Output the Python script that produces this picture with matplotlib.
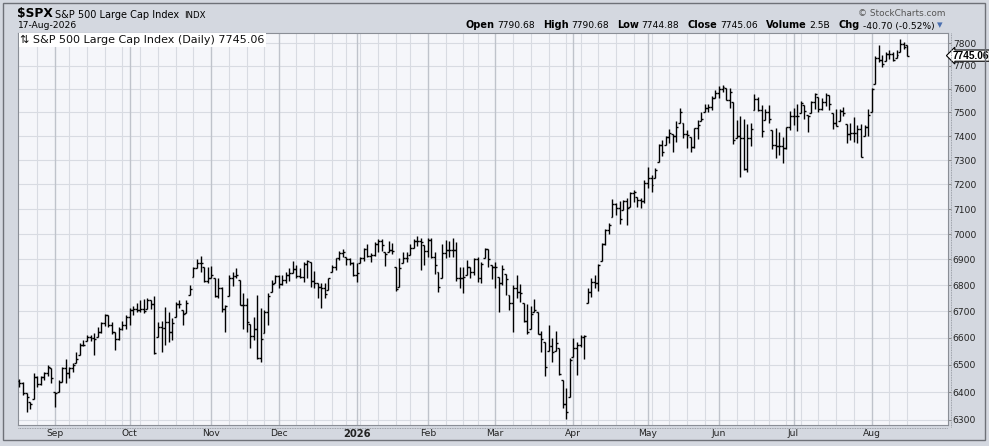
import numpy as np
import pandas as pd
import matplotlib
matplotlib.use('Agg')
import matplotlib.pyplot as plt
import matplotlib.transforms as mtransforms
from matplotlib.patches import Rectangle
from matplotlib.lines import Line2D
from matplotlib.ticker import FixedLocator, FixedFormatter, NullLocator

# trading days: one year of daily bars, NYSE holidays removed
holidays = ['2025-09-01', '2025-11-27', '2025-12-25', '2026-01-01', '2026-01-19',
            '2026-02-16', '2026-04-03', '2026-05-25', '2026-06-19', '2026-07-03']
dates = pd.bdate_range('2025-08-18', '2026-08-17')
dates = dates[~dates.isin(pd.to_datetime(holidays))]

highs = [6447, 6438, 6396, 6366, 6469, 6459, 6459, 6475, 6499, 6487,
         6402, 6444, 6491, 6520, 6493, 6506, 6549, 6582, 6592, 6611,
         6611, 6617, 6642, 6661, 6690, 6686, 6661, 6623, 6640, 6665,
         6686, 6711, 6720, 6731, 6743, 6746, 6750, 6743, 6759, 6661,
         6665, 6718, 6699, 6674, 6737, 6743, 6705, 6743, 6801, 6871,
         6902, 6915, 6871, 6871, 6875, 6826, 6826, 6794, 6724, 6838,
         6852, 6865, 6820, 6769, 6750, 6653, 6680, 6762, 6711, 6705,
         6769, 6820, 6841, 6838, 6838, 6852, 6865, 6894, 6878, 6865,
         6891, 6898, 6891, 6855, 6807, 6807, 6807, 6829, 6878, 6907,
         6933, 6941, 6911, 6904, 6891, 6888, 6911, 6943, 6959, 6924,
         6967, 6980, 6980, 6930, 6972, 6963, 6871, 6907, 6930, 6928,
         6959, 6980, 6993, 6983, 6957, 6985, 6985, 6930, 6852, 6959,
         6976, 6972, 6985, 6969, 6871, 6871, 6898, 6871, 6907, 6911,
         6891, 6946, 6941, 6878, 6891, 6833, 6878, 6845, 6762, 6801,
         6838, 6803, 6731, 6728, 6722, 6747, 6699, 6625, 6586, 6647,
         6599, 6625, 6561, 6446, 6415, 6526, 6599, 6586, 6611, 6611,
         6788, 6829, 6838, 6881, 6963, 7019, 7046, 7141, 7123, 7133,
         7137, 7144, 7168, 7178, 7150, 7144, 7217, 7272, 7237, 7268,
         7365, 7383, 7401, 7429, 7407, 7464, 7517, 7453, 7425, 7397,
         7435, 7467, 7503, 7535, 7535, 7571, 7595, 7614, 7617, 7606,
         7603, 7543, 7467, 7483, 7470, 7450, 7453, 7578, 7567, 7531,
         7513, 7531, 7425, 7432, 7418, 7394, 7439, 7507, 7517, 7535,
         7549, 7531, 7488, 7549, 7584, 7567, 7560, 7584, 7574, 7496,
         7513, 7513, 7522, 7450, 7453, 7479, 7446, 7450, 7446, 7513,
         7606, 7744, 7792, 7748, 7762, 7768, 7762, 7768, 7820, 7805,
         7790.68]
lows = [6420, 6390, 6330, 6338, 6374, 6420, 6426, 6444, 6459, 6432,
        6348, 6402, 6438, 6432, 6450, 6472, 6508, 6535, 6570, 6590,
        6589, 6536, 6605, 6617, 6645, 6640, 6615, 6555, 6592, 6630,
        6632, 6649, 6686, 6699, 6699, 6695, 6708, 6708, 6541, 6605,
        6549, 6572, 6586, 6592, 6680, 6711, 6647, 6693, 6762, 6833,
        6865, 6850, 6811, 6807, 6826, 6756, 6750, 6699, 6621, 6760,
        6798, 6826, 6726, 6635, 6623, 6561, 6592, 6523, 6509, 6617,
        6649, 6775, 6807, 6788, 6801, 6807, 6816, 6849, 6826, 6826,
        6813, 6826, 6794, 6791, 6750, 6711, 6750, 6781, 6852, 6859,
        6898, 6911, 6878, 6878, 6836, 6813, 6885, 6894, 6911, 6891,
        6915, 6930, 6933, 6875, 6930, 6920, 6778, 6794, 6885, 6891,
        6917, 6943, 6954, 6859, 6878, 6911, 6907, 6845, 6773, 6826,
        6904, 6911, 6911, 6816, 6788, 6769, 6841, 6826, 6838, 6813,
        6807, 6907, 6871, 6823, 6788, 6699, 6801, 6762, 6705, 6623,
        6750, 6737, 6661, 6613, 6632, 6699, 6613, 6546, 6460, 6550,
        6511, 6550, 6462, 6344, 6304, 6384, 6530, 6462, 6567, 6520,
        6731, 6753, 6788, 6778, 6894, 6957, 6999, 7069, 7076, 7042,
        7096, 7038, 7109, 7130, 7109, 7103, 7123, 7184, 7168, 7227,
        7290, 7318, 7362, 7369, 7334, 7373, 7453, 7393, 7348, 7332,
        7351, 7387, 7464, 7500, 7500, 7510, 7563, 7563, 7588, 7553,
        7517, 7365, 7390, 7231, 7259, 7252, 7357, 7510, 7507, 7397,
        7467, 7456, 7344, 7307, 7320, 7289, 7344, 7425, 7446, 7422,
        7498, 7470, 7418, 7496, 7513, 7503, 7510, 7527, 7510, 7428,
        7442, 7464, 7484, 7371, 7383, 7376, 7369, 7311, 7400, 7400,
        7503, 7620, 7717, 7697, 7720, 7729, 7720, 7733, 7759, 7775,
        7744.88]
closes = [6435, 6398, 6384, 6358, 6454, 6429, 6454, 6469, 6491, 6450,
          6398, 6437, 6487, 6469, 6487, 6499, 6520, 6574, 6574, 6605,
          6599, 6595, 6623, 6655, 6686, 6649, 6623, 6595, 6632, 6649,
          6680, 6705, 6708, 6705, 6708, 6702, 6743, 6728, 6544, 6642,
          6636, 6658, 6621, 6655, 6728, 6728, 6689, 6733, 6786, 6868,
          6885, 6885, 6816, 6829, 6841, 6760, 6791, 6710, 6722, 6826,
          6836, 6841, 6726, 6726, 6658, 6606, 6632, 6525, 6596, 6696,
          6758, 6803, 6836, 6803, 6820, 6841, 6849, 6862, 6836, 6833,
          6881, 6894, 6816, 6807, 6794, 6791, 6765, 6826, 6871, 6904,
          6924, 6928, 6902, 6888, 6838, 6849, 6907, 6941, 6915, 6917,
          6959, 6972, 6957, 6920, 6937, 6933, 6786, 6868, 6907, 6907,
          6943, 6972, 6972, 6967, 6933, 6976, 6911, 6878, 6794, 6924,
          6937, 6937, 6937, 6826, 6826, 6833, 6871, 6852, 6902, 6829,
          6881, 6941, 6902, 6871, 6871, 6807, 6862, 6823, 6731, 6788,
          6773, 6769, 6663, 6621, 6689, 6705, 6616, 6596, 6493, 6570,
          6548, 6582, 6465, 6356, 6330, 6517, 6563, 6574, 6605, 6607,
          6775, 6813, 6807, 6878, 6959, 7015, 7035, 7119, 7103, 7060,
          7133, 7105, 7163, 7168, 7135, 7133, 7204, 7224, 7197, 7259,
          7362, 7334, 7397, 7411, 7401, 7439, 7500, 7407, 7404, 7355,
          7432, 7446, 7471, 7517, 7524, 7563, 7581, 7600, 7610, 7553,
          7588, 7382, 7401, 7390, 7261, 7390, 7428, 7556, 7510, 7422,
          7503, 7470, 7362, 7357, 7357, 7351, 7437, 7484, 7484, 7484,
          7541, 7507, 7484, 7545, 7578, 7513, 7545, 7574, 7535, 7456,
          7442, 7507, 7498, 7407, 7411, 7411, 7428, 7313, 7439, 7488,
          7598, 7733, 7724, 7709, 7754, 7754, 7726, 7748, 7797, 7785,
          7745.06]
opens = [6440, 6435, 6396, 6366, 6374, 6454, 6429, 6454, 6469, 6487,
         6402, 6402, 6438, 6487, 6469, 6487, 6508, 6535, 6574, 6590,
         6605, 6599, 6605, 6623, 6655, 6686, 6649, 6623, 6595, 6632,
         6649, 6680, 6705, 6708, 6705, 6708, 6708, 6743, 6728, 6605,
         6642, 6636, 6658, 6621, 6680, 6728, 6705, 6693, 6762, 6833,
         6868, 6885, 6871, 6816, 6829, 6826, 6760, 6791, 6710, 6760,
         6826, 6836, 6820, 6726, 6726, 6653, 6606, 6632, 6525, 6617,
         6696, 6775, 6807, 6836, 6803, 6820, 6841, 6849, 6862, 6836,
         6833, 6881, 6891, 6816, 6807, 6794, 6791, 6781, 6852, 6871,
         6904, 6924, 6911, 6902, 6888, 6838, 6885, 6907, 6941, 6915,
         6917, 6959, 6972, 6930, 6930, 6937, 6871, 6794, 6885, 6907,
         6917, 6943, 6972, 6972, 6957, 6933, 6976, 6911, 6852, 6826,
         6924, 6937, 6937, 6937, 6826, 6826, 6841, 6871, 6852, 6902,
         6829, 6907, 6941, 6878, 6871, 6833, 6807, 6845, 6762, 6731,
         6788, 6773, 6731, 6663, 6632, 6699, 6699, 6616, 6586, 6550,
         6570, 6550, 6561, 6446, 6356, 6384, 6530, 6563, 6574, 6605,
         6731, 6775, 6813, 6807, 6894, 6959, 7015, 7069, 7119, 7103,
         7096, 7133, 7109, 7163, 7150, 7135, 7133, 7204, 7224, 7227,
         7290, 7362, 7362, 7397, 7407, 7401, 7453, 7453, 7407, 7397,
         7355, 7432, 7464, 7500, 7517, 7524, 7563, 7581, 7600, 7606,
         7553, 7543, 7390, 7401, 7390, 7261, 7390, 7510, 7556, 7510,
         7467, 7503, 7425, 7362, 7357, 7357, 7351, 7437, 7484, 7484,
         7498, 7531, 7488, 7496, 7545, 7567, 7513, 7545, 7574, 7496,
         7456, 7464, 7507, 7450, 7407, 7411, 7411, 7428, 7400, 7439,
         7503, 7620, 7733, 7724, 7720, 7754, 7754, 7733, 7759, 7797,
         7790.68]

y_ticks = list(range(6300, 7900, 100))
header_fields = [('Open', '7790.68'), ('High', '7790.68'), ('Low', '7744.88'),
                 ('Close', '7745.06'), ('Volume', '2.5B'), ('Chg', '-40.70 (-0.52%)')]
last_close = closes[-1]

W, H = 989, 446
fig = plt.figure(figsize=(W / 100, H / 100), dpi=100)
fig.patch.set_facecolor('#d4d8e0')

def fx(px):
    return px / W

def fy(py):
    return 1 - py / H

# plot area in pixels: x 18..948, y 33..425
ax = fig.add_axes([fx(18), fy(425), fx(948) - fx(18), fy(33) - fy(425)])
ax.set_facecolor('#f5f6fa')

x = np.arange(len(dates))
ax.set_yscale('log')
ax.set_xlim(-0.42, 261.5)
ax.set_ylim(6282, 7845)

# grid: horizontal every 100, weekly + monthly verticals
for v in y_ticks:
    ax.axhline(v, color='#d8dbe2', lw=0.8, zorder=0)
week = dates.to_period('W')
month = dates.to_period('M')
week_starts = [i for i in range(1, len(dates)) if week[i] != week[i - 1]]
month_starts = [i for i in range(1, len(dates)) if month[i] != month[i - 1]]
for i in week_starts:
    if i not in month_starts:
        ax.axvline(i, color='#d8dbe2', lw=0.8, zorder=0)
for i in month_starts:
    ax.axvline(i, color='#bfc3cb', lw=1.0, zorder=0)

# OHLC bars
bar_kw = dict(color='black', lw=1.0, zorder=3)
ax.vlines(x, lows, highs, **bar_kw)
ax.hlines(opens, x - 0.55, x, **bar_kw)
ax.hlines(closes, x, x + 0.55, **bar_kw)

# right price axis
ax.yaxis.tick_right()
ax.yaxis.set_major_locator(FixedLocator(y_ticks))
ax.yaxis.set_major_formatter(FixedFormatter([str(v) for v in y_ticks]))
ax.yaxis.set_minor_locator(NullLocator())
ax.tick_params(axis='y', which='major', length=2.5, width=0.7, color='#888888',
               labelsize=6.6, labelcolor='#222222', pad=1)

# month labels
labels = []
for i in month_starts:
    d = dates[i]
    labels.append('2026' if (d.month == 1) else d.strftime('%b'))
ax.set_xticks(month_starts)
ax.set_xticklabels(labels)
ax.tick_params(axis='x', length=0, labelsize=6.6, labelcolor='#222222', pad=3)
for t in ax.get_xticklabels():
    if t.get_text() == '2026':
        t.set_fontweight('bold')
        t.set_fontsize(7.2)

for s in ax.spines.values():
    s.set_color('#8a8e96')
    s.set_linewidth(0.8)

# dotted lines along bottom and right edge
fig.add_artist(Line2D([fx(18), fx(948)], [fy(427.5)] * 2, color='#8a8e96', lw=0.6, ls=(0, (1, 1))))
fig.add_artist(Line2D([fx(950.5)] * 2, [fy(33), fy(427)], color='#8a8e96', lw=0.6, ls=(0, (1, 1))))

# legend text inside the plot
ax.text(0.0025, 0.995, '\u21c5 S&P 500 Large Cap Index (Daily) 7745.06',
        transform=ax.transAxes, ha='left', va='top', fontsize=8.0, color='#111111',
        bbox=dict(boxstyle='square,pad=0.15', fc='white', ec='none'), zorder=5)

# last price marker on the right axis
trans = mtransforms.blended_transform_factory(ax.transAxes, ax.transData)
ax.text(1.0045, last_close, '%.2f' % last_close, transform=trans, ha='left', va='center',
        fontsize=7.3, fontweight='bold', family='Liberation Sans', color='black',
        clip_on=False, zorder=6,
        bbox=dict(boxstyle='larrow,pad=0.06', fc='white', ec='black', lw=0.8))

# header
fig.text(fx(17), fy(17.5), '$SPX', fontsize=8.8, fontweight='bold', color='black')
fig.text(fx(55), fy(17.5), 'S&P 500 Large Cap Index', fontsize=7.0, color='black')
fig.text(fx(184), fy(17.5), 'INDX', fontsize=6.2, color='black')
fig.text(fx(18), fy(28.5), '17-Aug-2026', fontsize=6.6, color='black')
fig.text(fx(945), fy(16.5), '\u00a9 StockCharts.com', fontsize=6.4, color='#555555', ha='right')

renderer = fig.canvas.get_renderer()
px = 465
for name, val in header_fields:
    t = fig.text(fx(px), fy(28.5), name, fontsize=7.0, fontweight='bold', color='black')
    px = t.get_window_extent(renderer).x1 + 3
    t = fig.text(fx(px), fy(28.5), val, fontsize=6.6, color='black')
    px = t.get_window_extent(renderer).x1 + 8
fig.text(fx(px - 5), fy(28.5), '\u25be', fontsize=8, color='#4a6fb0')

# outer frame
fig.add_artist(Rectangle((fx(2.5), fy(440)), fx(985) - fx(2.5), fy(3) - fy(440),
                         fill=False, ec='#6e7178', lw=1.0, transform=fig.transFigure))

fig.savefig('out.png', dpi=100, facecolor=fig.get_facecolor())
